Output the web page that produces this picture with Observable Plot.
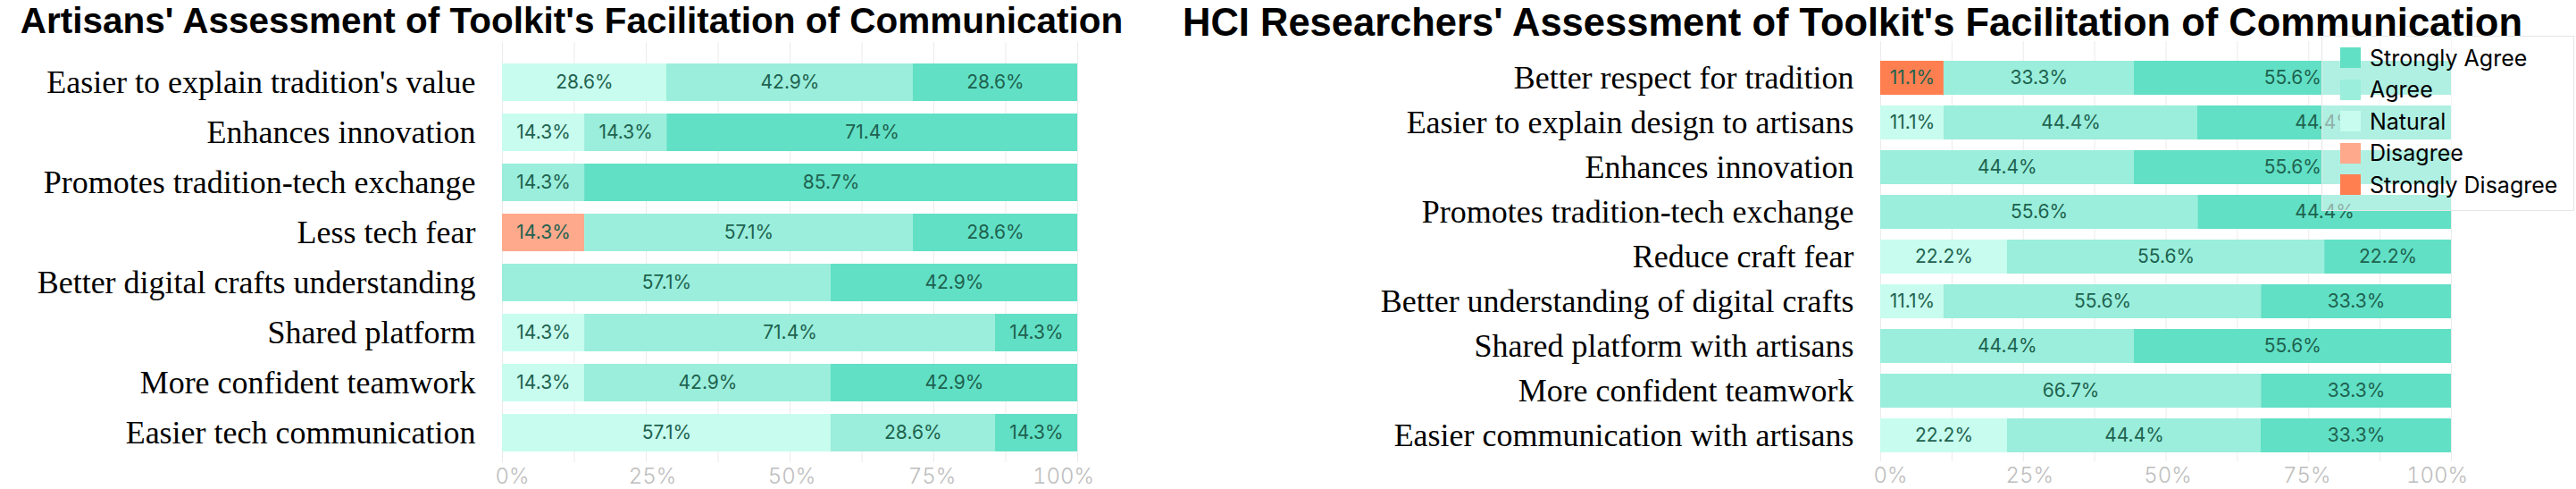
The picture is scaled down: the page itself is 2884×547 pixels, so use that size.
<!DOCTYPE html>
<html>
<head>
<meta charset="utf-8">
<script src="https://cdn.jsdelivr.net/npm/d3@7"></script>
<script src="https://cdn.jsdelivr.net/npm/@observablehq/plot@0.6"></script>
<style>
  html, body { margin: 0; padding: 0; background: #fff; }
  #root { position: relative; width: 2884px; height: 547px; overflow: hidden; background: #fff; }
  .title { position: absolute; top: 6px; transform: translateX(-50%); white-space: nowrap;
           font-family: "Liberation Sans", Arial, sans-serif; font-weight: bold; line-height: 34px; color: #000; }
  .chart { position: absolute; top: 40px; }
  #legendBox { position: absolute; left: 2599px; top: 40px; width: 283px; height: 196px;
               background: rgba(255,255,255,0.5); border: 1px solid #e6e6e6; box-sizing: border-box;
               padding: 6px 0 0 20px; }
  .lg-swatches { font-family: Inter, "Noto Sans", sans-serif !important; font-size: 25px !important; color: #000; }
  .lg-swatch { height: 35.5px !important; padding-bottom: 0 !important; align-items: center !important; }
  .lg-swatch > svg { margin-right: 10px !important; }
  .lg-swatch > div, .lg-label { overflow: visible !important; line-height: normal; }
</style>
</head>
<body>
<div id="root">
  <div class="title" id="t1" style="left:640px;font-size:40.5px">Artisans' Assessment of Toolkit's Facilitation of Communication</div>
  <div class="title" id="t2" style="left:2074px;top:8px;font-size:43.5px">HCI Researchers' Assessment of Toolkit's Facilitation of Communication</div>
  <div class="chart" id="c1" style="left:0px"></div>
  <div class="chart" id="c2" style="left:1442px"></div>
  <div id="legendBox"></div>
</div>
<script>
// ---- data ----
const levels = ["Strongly Disagree", "Disagree", "Natural", "Agree", "Strongly Agree"];
const levelColors = ["#FF7F50", "#FFA98C", "#C8FCEE", "#9AEEDB", "#61E0C5"];

const artisanItems = [
  "Easier to explain tradition's value",
  "Enhances innovation",
  "Promotes tradition-tech exchange",
  "Less tech fear",
  "Better digital crafts understanding",
  "Shared platform",
  "More confident teamwork",
  "Easier tech communication"
];
const artisanSD = [0, 0, 0, 0, 0, 0, 0, 0];
const artisanD  = [0, 0, 0, 14.3, 0, 0, 0, 0];
const artisanN  = [28.6, 14.3, 0, 0, 0, 14.3, 14.3, 57.1];
const artisanA  = [42.9, 14.3, 14.3, 57.1, 57.1, 71.4, 42.9, 28.6];
const artisanSA = [28.6, 71.4, 85.7, 28.6, 42.9, 14.3, 42.9, 14.3];

const hciItems = [
  "Better respect for tradition",
  "Easier to explain design to artisans",
  "Enhances innovation",
  "Promotes tradition-tech exchange",
  "Reduce craft fear",
  "Better understanding of digital crafts",
  "Shared platform with artisans",
  "More confident teamwork",
  "Easier communication with artisans"
];
const hciSD = [11.1, 0, 0, 0, 0, 0, 0, 0, 0];
const hciD  = [0, 0, 0, 0, 0, 0, 0, 0, 0];
const hciN  = [0, 11.1, 0, 0, 22.2, 11.1, 0, 0, 22.2];
const hciA  = [33.3, 44.4, 44.4, 55.6, 55.6, 55.6, 44.4, 66.7, 44.4];
const hciSA = [55.6, 44.4, 55.6, 44.4, 22.2, 33.3, 55.6, 33.3, 33.3];

const gridTicks = [0, 0.125, 0.25, 0.375, 0.5, 0.625, 0.75, 0.875, 1];
const axisTicks = [0, 0.25, 0.5, 0.75, 1];
const axisTickShift = [11, 7, 2, -2, -16];

// ---- build tidy tables ----
function tidy(items, series) {
  const out = [];
  items.forEach((item, i) => {
    levels.forEach((lv, j) => {
      const v = series[j][i];
      if (v > 0) out.push({item, level: lv, value: v});
    });
  });
  return out;
}
const artisanRows = tidy(artisanItems, [artisanSD, artisanD, artisanN, artisanA, artisanSA]);
const hciRows = tidy(hciItems, [hciSD, hciD, hciN, hciA, hciSA]);

function chart(rows, items, cfg) {
  const stackOpts = {x: "value", y: "item", order: levels, offset: "normalize"};
  return Plot.plot({
    width: 1442,
    height: 507,
    marginTop: cfg.marginTop,
    marginBottom: cfg.marginBottom,
    marginLeft: cfg.marginLeft,
    marginRight: cfg.marginRight,
    style: {fontFamily: "Inter, 'Noto Sans', sans-serif", background: "transparent", overflow: "visible"},
    x: {domain: [0, 1], axis: null},
    y: {domain: items, range: cfg.yRange, paddingInner: 0.25, paddingOuter: 0.125, axis: null},
    color: {domain: levels, range: levelColors},
    marks: [
      Plot.ruleX(gridTicks, {stroke: "#ebebeb", strokeWidth: 1}),
      Plot.barX(rows, Plot.stackX({...stackOpts, fill: "level"})),
      Plot.text(rows, Plot.stackX({...stackOpts, z: "level",
        text: d => d.value.toFixed(1) + "%", fill: "#1e624f", fontSize: 21})),
      Plot.axisY({tickSize: 0, tickPadding: 30, fontSize: 36, fontFamily: "'Liberation Serif', 'Times New Roman', serif",
        fill: "#000", textStroke: "none", label: null}),
      ...axisTicks.map((t, i) => Plot.axisX([t], {
        tickSize: 0, tickPadding: 6, fontSize: 24, fontWeight: 300, fill: "#bdbdbd",
        dx: axisTickShift[i], tickFormat: d => Math.round(d * 100) + "%", label: null
      }))
    ]
  });
}

document.getElementById("c1").append(chart(artisanRows, artisanItems, {
  marginTop: 7, marginBottom: 30, marginLeft: 562, marginRight: 236, yRange: [22, 473]
}));
document.getElementById("c2").append(chart(hciRows, hciItems, {
  marginTop: 6, marginBottom: 31, marginLeft: 663, marginRight: 140, yRange: [21.7, 472.3]
}));

const legendOrder = levels.slice().reverse();
const legendColors = levelColors.slice().reverse();
document.getElementById("legendBox").append(Plot.legend({
  color: {domain: legendOrder, range: legendColors, type: "ordinal"},
  legend: "swatches",
  columns: 1,
  swatchSize: 23,
  className: "lg"
}));
</script>
</body>
</html>
